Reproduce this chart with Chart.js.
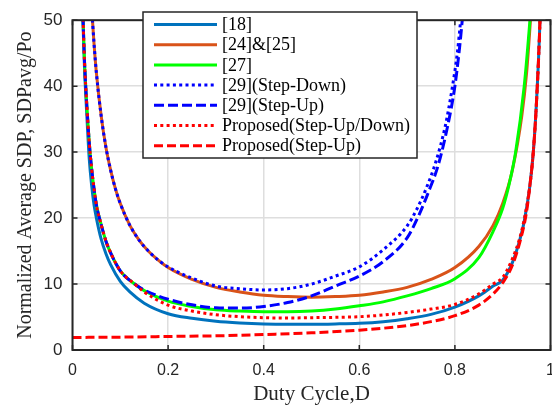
<!DOCTYPE html>
<html>
<head>
<meta charset="utf-8">
<script src="https://cdn.jsdelivr.net/npm/chart.js@4.4.1/dist/chart.umd.min.js"></script>
<style>
  html, body { margin: 0; padding: 0; background: #fff; overflow: hidden; }
  #wrap { width: 552px; height: 409px; }
</style>
</head>
<body>
<div id="wrap"><canvas id="chart" width="552" height="409"></canvas></div>
<script>
// Values (duty cycle D -> normalized SDP)
const seriesLabels = ['[18]', '[24]&[25]', '[27]', '[29](Step-Down)', '[29](Step-Up)', 'Proposed(Step-Up/Down)', 'Proposed(Step-Up)'];
const xTicks = [0, 0.2, 0.4, 0.6, 0.8, 1];
const yTicks = [0, 10, 20, 30, 40, 50];

const ref18D = [0.02, 0.025, 0.03, 0.035, 0.04, 0.045, 0.05, 0.06, 0.07, 0.08, 0.1, 0.12, 0.15, 0.2, 0.25, 0.3, 0.35, 0.4, 0.45, 0.5, 0.55, 0.6, 0.65, 0.7, 0.75, 0.8, 0.85, 0.88, 0.9, 0.92, 0.935, 0.945, 0.957, 0.964, 0.971, 0.978, 0.985];
const ref18 = [54, 43, 35.5, 29, 25, 22, 20, 16.8, 14.6, 12.9, 10.4, 8.8, 7.1, 5.5, 4.8, 4.35, 4.1, 3.95, 3.9, 3.9, 3.95, 4.05, 4.3, 4.75, 5.4, 6.5, 8.2, 9.7, 10.6, 13.2, 16.5, 19.5, 25, 30, 38, 50, 70];

const ref2425D = [0.04, 0.045, 0.05, 0.06, 0.07, 0.08, 0.09, 0.1, 0.12, 0.14, 0.16, 0.18, 0.2, 0.25, 0.3, 0.35, 0.4, 0.45, 0.5, 0.55, 0.6, 0.65, 0.7, 0.75, 0.8, 0.85, 0.88, 0.9, 0.92, 0.94, 0.95, 0.96];
const ref2425 = [52, 46.5, 42, 35.5, 30.7, 27.2, 24.4, 22.2, 18.9, 16.6, 14.9, 13.6, 12.5, 10.7, 9.5, 8.8, 8.3, 8.1, 8.0, 8.1, 8.3, 8.8, 9.5, 10.7, 12.5, 15.7, 18.9, 22.2, 27.2, 35.5, 42, 52];

const ref27D = [0.02, 0.025, 0.03, 0.035, 0.04, 0.045, 0.05, 0.06, 0.07, 0.08, 0.1, 0.13, 0.15, 0.2, 0.25, 0.3, 0.35, 0.4, 0.45, 0.5, 0.55, 0.6, 0.65, 0.7, 0.75, 0.8, 0.85, 0.88, 0.9, 0.913, 0.927, 0.945, 0.957, 0.965];
const ref27 = [55, 44, 37, 31.5, 27.5, 24.5, 22, 19, 16.5, 14.7, 12, 10, 9, 7.4, 6.6, 6.1, 5.9, 5.8, 5.8, 5.9, 6.2, 6.7, 7.3, 8.2, 9.3, 10.8, 14, 18, 21.5, 25, 30, 40, 50, 58];

const ref29DownD = [0.04, 0.045, 0.05, 0.06, 0.07, 0.08, 0.09, 0.1, 0.12, 0.14, 0.16, 0.18, 0.2, 0.25, 0.3, 0.35, 0.4, 0.45, 0.5, 0.55, 0.6, 0.65, 0.7, 0.72, 0.74, 0.76, 0.78, 0.795, 0.805, 0.812, 0.82];
const ref29Down = [52, 46.5, 42, 35.5, 30.7, 27.2, 24.4, 22.2, 18.9, 16.6, 14.9, 13.6, 12.6, 10.9, 9.7, 9.3, 9.1, 9.3, 10, 11.2, 12.6, 15.2, 18.8, 21.3, 24.5, 28.5, 34, 40, 45, 50, 57];

const ref29UpD = [0.02, 0.025, 0.03, 0.035, 0.04, 0.045, 0.05, 0.06, 0.07, 0.08, 0.1, 0.13, 0.15, 0.2, 0.25, 0.3, 0.35, 0.4, 0.45, 0.5, 0.55, 0.6, 0.65, 0.7, 0.725, 0.745, 0.765, 0.785, 0.8, 0.81, 0.818];
const ref29Up = [55, 44, 37, 31.5, 27.5, 24.5, 22, 19, 16.5, 14.7, 12, 10, 9.1, 7.7, 6.85, 6.4, 6.35, 6.6, 7.2, 8.2, 9.7, 11.2, 13.4, 17, 20.5, 24, 28, 34, 40, 46, 52];

const propUpDownD = [0.02, 0.025, 0.03, 0.035, 0.04, 0.045, 0.05, 0.06, 0.07, 0.08, 0.1, 0.13, 0.15, 0.2, 0.25, 0.3, 0.35, 0.4, 0.45, 0.5, 0.55, 0.6, 0.65, 0.7, 0.75, 0.8, 0.85, 0.88, 0.9, 0.92, 0.935, 0.945, 0.957, 0.964, 0.971, 0.978, 0.985];
const propUpDown = [55, 44, 37, 31.5, 27.5, 24.5, 22, 19, 16.5, 14.7, 12, 10, 8.8, 6.8, 5.9, 5.35, 5.05, 4.9, 4.85, 4.9, 4.95, 5.05, 5.3, 5.7, 6.2, 6.9, 8.5, 10, 11, 13.8, 16.8, 19.8, 25, 30, 38, 50, 70];

const propUpD = [0, 0.1, 0.2, 0.3, 0.4, 0.5, 0.6, 0.65, 0.7, 0.75, 0.8, 0.85, 0.88, 0.9, 0.92, 0.94, 0.95, 0.957, 0.964, 0.971, 0.978, 0.985];
const propUp = [1.9, 1.95, 2.05, 2.15, 2.35, 2.6, 3, 3.3, 3.7, 4.3, 5.2, 6.8, 8.5, 10.2, 12.8, 17.5, 21, 25, 30, 38, 50, 70];

const serif = '"Liberation Serif", "Times New Roman", serif';
const sans = '"Liberation Sans", Arial, sans-serif';

function points(xs, ys) {
    return xs.map((x, i) => ({ x: x, y: ys[i] }));
}

function series(i, xs, ys, color, dash) {
    return {
        label: seriesLabels[i],
        data: points(xs, ys),
        borderColor: color,
        borderWidth: 3,
        borderDash: dash,
        pointRadius: 0,
        fill: false,
        cubicInterpolationMode: 'monotone',
        clip: 0,
        order: -i
    };
}

// MATLAB-like box with inward ticks
const boxPlugin = {
    id: 'box',
    afterDatasetsDraw(chart) {
        const { ctx, chartArea: a, scales } = chart;
        ctx.save();
        ctx.strokeStyle = '#262626';
        ctx.lineWidth = 1.5;
        ctx.beginPath();
        xTicks.forEach(v => {
            const px = scales.x.getPixelForValue(v);
            ctx.moveTo(px, a.bottom); ctx.lineTo(px, a.bottom - 5);
            ctx.moveTo(px, a.top); ctx.lineTo(px, a.top + 5);
        });
        yTicks.forEach(v => {
            const py = scales.y.getPixelForValue(v);
            ctx.moveTo(a.left, py); ctx.lineTo(a.left + 5, py);
            ctx.moveTo(a.right, py); ctx.lineTo(a.right - 5, py);
        });
        ctx.stroke();
        ctx.lineWidth = 2;
        ctx.strokeRect(a.left, a.top, a.right - a.left, a.bottom - a.top);
        ctx.restore();
    }
};

// legend box drawn inside the plot
const legendPlugin = {
    id: 'boxLegend',
    afterDraw(chart) {
        const ctx = chart.ctx;
        const x0 = 143, y0 = 12, w = 274, h = 146;
        ctx.save();
        ctx.fillStyle = '#fff';
        ctx.fillRect(x0, y0, w, h);
        ctx.strokeStyle = '#262626';
        ctx.lineWidth = 1.5;
        ctx.strokeRect(x0, y0, w, h);
        ctx.font = '18px ' + serif;
        ctx.textBaseline = 'middle';
        chart.data.datasets.forEach((ds, i) => {
            const y = 24.5 + i * 20.2;
            ctx.strokeStyle = ds.borderColor;
            ctx.lineWidth = ds.borderWidth;
            ctx.setLineDash(ds.borderDash || []);
            ctx.beginPath();
            ctx.moveTo(154, y);
            ctx.lineTo(217, y);
            ctx.stroke();
            ctx.setLineDash([]);
            ctx.fillStyle = '#000';
            ctx.fillText(ds.label, 222, y + 1);
        });
        ctx.restore();
    }
};

new Chart(document.getElementById('chart'), {
    type: 'line',
    data: {
        datasets: [
            series(0, ref18D, ref18, '#0072BD', []),
            series(1, ref2425D, ref2425, '#D95319', []),
            series(2, ref27D, ref27, '#00FF00', []),
            series(3, ref29DownD, ref29Down, '#0000FF', [3, 3.3]),
            series(4, ref29UpD, ref29Up, '#0000FF', [10, 4]),
            series(5, propUpDownD, propUpDown, '#FF0000', [3, 3.3]),
            series(6, propUpD, propUp, '#FF0000', [9, 4])
        ]
    },
    options: {
        responsive: false,
        animation: false,
        devicePixelRatio: 1,
        layout: { padding: { left: 0, top: 12, right: 1.5, bottom: 0 } },
        plugins: {
            legend: { display: false },
            tooltip: { enabled: false }
        },
        scales: {
            x: {
                type: 'linear',
                min: 0,
                max: 1,
                afterBuildTicks: s => { s.ticks = xTicks.map(v => ({ value: v })); },
                afterFit: s => { s.height = 59; s.paddingRight = 0; s.paddingLeft = 0; },
                ticks: {
                    padding: 11,
                    color: '#262626',
                    font: { family: sans, size: 16 },
                    maxRotation: 0,
                    callback: v => String(Math.round(v * 10) / 10)
                },
                grid: { color: '#dedede', lineWidth: 1.5, drawTicks: false },
                border: { display: false },
                title: {
                    display: true,
                    text: 'Duty Cycle,D',
                    color: '#262626',
                    font: { family: serif, size: 21 },
                    padding: { top: 0, bottom: 2 }
                }
            },
            y: {
                type: 'linear',
                min: 0,
                max: 50,
                afterBuildTicks: s => { s.ticks = yTicks.map(v => ({ value: v })); },
                afterFit: s => { s.width = 72.5; },
                ticks: {
                    padding: 10,
                    color: '#262626',
                    font: { family: sans, size: 17 }
                },
                grid: { color: '#dedede', lineWidth: 1.5, drawTicks: false },
                border: { display: false },
                title: {
                    display: true,
                    text: 'Normalized Average SDP, SDPavg/Po',
                    color: '#262626',
                    font: { family: serif, size: 20 },
                    padding: { top: 14, bottom: 0 }
                }
            }
        }
    },
    plugins: [boxPlugin, legendPlugin]
});
</script>
</body>
</html>
